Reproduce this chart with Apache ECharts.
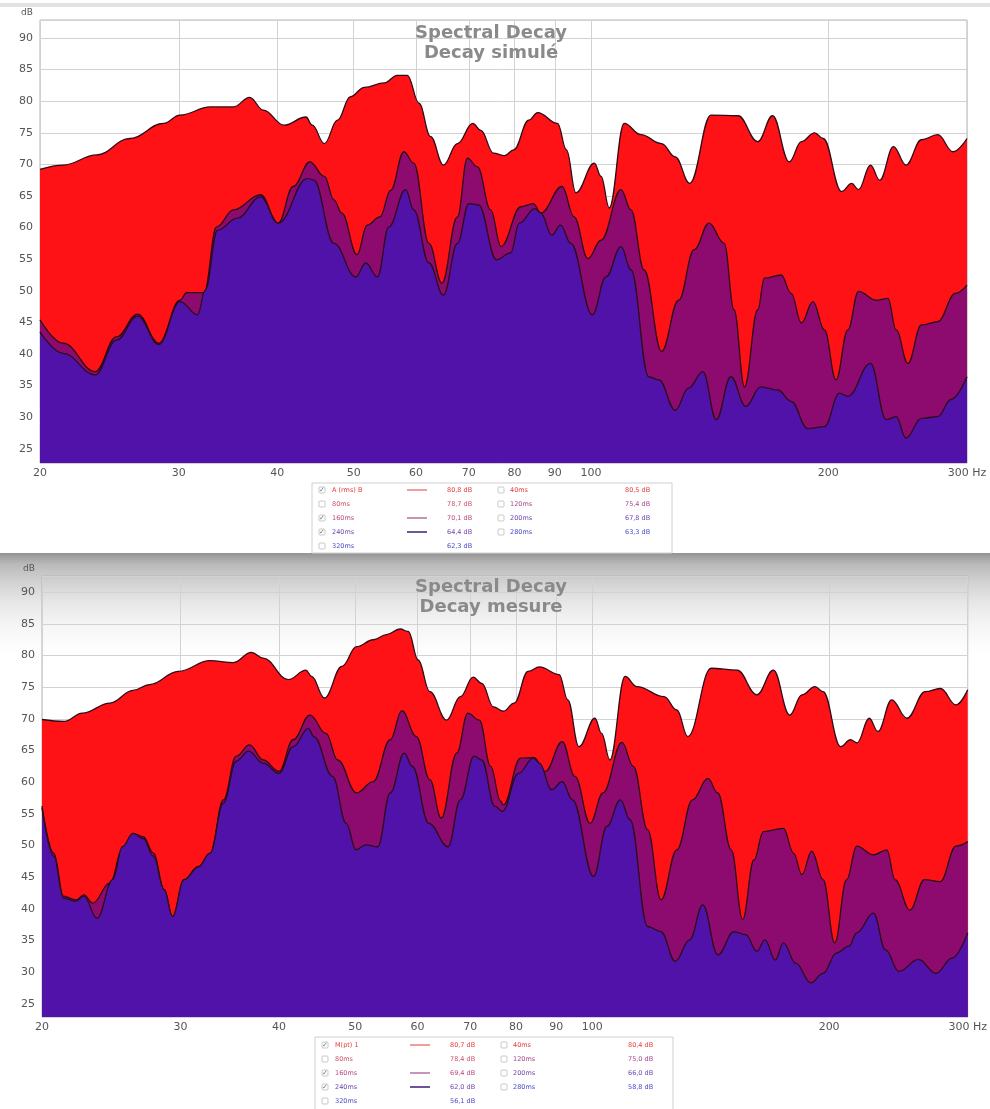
<!DOCTYPE html>
<html>
<head>
<meta charset="utf-8">
<script src="https://cdn.jsdelivr.net/npm/echarts@6/dist/echarts.min.js"></script>
<style>
  html, body { margin: 0; padding: 0; background: #fff; }
  #chart { width: 990px; height: 1109px; }
</style>
</head>
<body>
<div id="chart"></div>
<script>
// ticks of the frequency axis (Hz)
const freqTicks = [20, 30, 40, 50, 60, 70, 80, 90, 100, 200, 300];

// simulated decay: [Hz, dB]
const simRms = [[20,69.2],[21.4,69.9],[23.6,71.5],[26,74.1],[28.7,76.5],[30.1,77.8],[32.9,79.1],[35.2,79.1],[36.9,80.6],[38.4,78.6],[40.8,76.2],[43.5,77.5],[44.3,76.2],[45.9,73.3],[47.7,77.0],[49.5,80.7],[51.6,82.2],[54.7,82.9],[56.8,84.1],[58.5,84.1],[60.5,79.7],[62.6,74.4],[65,69.9],[67.7,73.3],[70.8,76.5],[72.5,75.4],[75.2,71.8],[77.7,71.4],[79.8,72.3],[83.4,77.0],[85.6,78.2],[90.7,76.5],[93.1,72.3],[95.7,65.5],[101,70.2],[103,68.1],[105.5,63.1],[110.2,76.5],[115.7,74.7],[122.9,73.3],[127.9,71.2],[133.5,67.0],[142,77.8],[153.7,77.7],[162.8,73.6],[170,77.7],[178.5,70.4],[184.9,73.6],[192.2,75.0],[197.1,74.1],[208,65.7],[214.2,67.0],[218.5,66.0],[226.3,69.9],[232.5,67.5],[242,72.8],[251,69.9],[262.6,73.9],[275.4,74.7],[288,72.0],[300,74.1]];
const sim160 = [[20,45.4],[21.4,41.7],[23.5,37.2],[25,42.7],[26.6,46.3],[28.3,41.7],[30.1,48.5],[30.7,49.7],[32.3,49.7],[33.5,60.1],[35.2,62.8],[38.1,65.2],[40.1,60.7],[41.9,66.5],[44,70.4],[45.9,68.1],[47.2,64.4],[48.3,62.3],[50.5,55.7],[52,60.4],[54,61.7],[55.7,65.9],[57.9,72.0],[59.6,70.2],[62.3,57.5],[64.7,51.2],[67.7,61.7],[69.7,71.0],[71.8,69.6],[74.6,62.8],[76.9,57.0],[81.5,63.3],[84.5,63.8],[86.4,62.3],[91.9,66.5],[95.2,61.7],[99.1,55.1],[103,58.0],[109.2,66.0],[112.4,62.8],[116.8,53.3],[122.9,40.4],[129.2,48.5],[135.2,56.5],[141.2,60.7],[147.6,57.5],[151.9,47.0],[156.6,34.8],[162.8,47.0],[166,52.0],[174.3,52.5],[179.5,49.6],[184.9,44.9],[191.3,48.3],[197.8,43.8],[204.6,35.9],[211.8,43.8],[218.5,49.9],[230,48.5],[238.1,48.8],[243.9,43.8],[252.4,38.5],[262.6,44.6],[275.4,45.1],[290,49.6],[300,50.9]];
const sim240 = [[20,43.5],[21.4,40.1],[23.5,36.7],[25,42.2],[26.6,46.0],[28.3,41.5],[30.1,48.3],[31.7,46.2],[32.4,50.1],[33.6,59.6],[35.6,61.5],[38.1,64.9],[40.1,60.7],[43.7,67.8],[44.5,67.5],[47.2,57.5],[50.3,52.2],[51.8,54.4],[53.6,52.2],[55.4,60.1],[58.2,66.0],[59.6,62.8],[62.3,54.4],[65,49.3],[67.7,57.5],[70,63.8],[72,63.6],[75.9,54.9],[79.1,56.0],[81.1,60.7],[84.9,63.0],[86.4,62.3],[89.2,58.8],[91.5,60.4],[94.3,57.5],[100.4,46.2],[104.5,52.2],[109.2,57.0],[112.4,53.3],[118.4,36.4],[122,35.9],[127.9,31.1],[133,34.6],[138.7,37.2],[144.2,29.6],[150.5,36.4],[157.2,31.7],[164.2,34.8],[172.6,34.3],[179.5,32.5],[188.3,28.2],[197.8,28.5],[206.7,33.8],[211.8,33.3],[226.3,38.5],[236.9,29.6],[243.9,30.1],[251,26.7],[262.6,29.8],[275.4,30.1],[286.4,32.8],[300,36.4]];

// measured decay: [Hz, dB]
const mesRms = [[20,69.9],[21.35,69.6],[22.5,70.9],[24.4,72.5],[26.1,74.5],[27.4,75.4],[29.8,77.5],[32.7,79.2],[35,78.9],[36.9,80.5],[38.2,79.6],[41.1,76.2],[43.3,77.7],[44,76.7],[45.7,73.3],[48.1,78.3],[50.2,81.4],[52.7,82.5],[54.8,83.3],[57,84.2],[58.4,83.8],[60.1,79.3],[62.2,74.3],[65.3,69.8],[68,73.5],[70.6,76.6],[72.4,75.6],[74.9,71.9],[77.1,71.2],[79.6,72.5],[82.9,77.5],[85.7,78.2],[90.8,77.0],[93.1,73.0],[96.2,65.6],[100.8,70.1],[102.8,67.7],[105.3,63.5],[110.1,76.7],[114,75.1],[123.4,73.5],[128.1,71.4],[132.3,67.2],[141.6,78.0],[152.8,77.7],[161.9,73.8],[169.9,77.7],[178.2,70.6],[184.7,73.8],[191.9,75.1],[196.5,74.3],[206.8,65.6],[212.9,66.7],[217,66.2],[224.9,70.1],[230.7,68.0],[240.2,73.0],[251.1,70.1],[264.9,74.3],[277,74.8],[289.9,72.2],[300,74.6]];
const mes160 = [[20,56.2],[20.7,48.8],[21.3,42.0],[22.1,41.4],[22.6,42.2],[23.2,40.9],[24.4,44.1],[25.3,49.3],[26.1,51.9],[26.9,51.4],[27.7,48.8],[28.6,43.0],[29.3,38.8],[30.3,44.6],[31.6,46.7],[32.7,48.8],[34,57.2],[35.3,64.1],[36.7,65.9],[38.2,63.5],[40,61.7],[41.7,66.7],[43.8,70.6],[45.9,67.7],[47.5,63.5],[50.2,58.3],[52.7,60.1],[55.4,66.7],[57.3,71.3],[59.8,67.2],[62.2,60.4],[64.3,54.3],[67.3,64.6],[69.5,70.9],[71.9,69.8],[74.3,62.5],[76.5,57.0],[77.1,56.4],[81.1,63.8],[84.3,63.9],[87.2,61.7],[91.6,66.4],[95.1,60.9],[99.4,53.5],[103.2,58.3],[109.1,66.3],[112.8,62.5],[117.6,52.5],[122.3,41.4],[128.1,49.3],[134.1,57.2],[140.3,60.6],[144.4,58.3],[150.2,49.3],[155.3,38.3],[160.5,47.7],[165,52.2],[175,52.7],[180.2,48.8],[184.7,45.4],[190.1,49.1],[196.5,44.6],[203.3,34.6],[210.5,44.6],[216.8,49.9],[227.7,48.5],[236.8,49.3],[242.5,44.6],[253.3,39.8],[264.3,44.6],[276.8,44.3],[289.9,49.9],[300,50.6]];
const mes240 = [[20,55.9],[20.7,48.3],[21.3,41.7],[22.1,41.2],[22.6,42.0],[23.5,38.5],[24.6,44.6],[25.3,49.8],[26.1,51.9],[26.9,51.1],[27.7,48.3],[28.6,43.0],[29.3,38.8],[30.3,44.6],[31.6,46.6],[32.7,48.8],[34,56.7],[35.3,63.3],[36.6,64.9],[38.2,63.0],[40,61.4],[41.7,65.6],[43.6,68.5],[44.3,67.2],[46.8,60.9],[48.7,53.5],[50.1,49.3],[51.6,50.1],[53.4,49.8],[55.4,58.3],[57.7,64.6],[59.1,62.5],[62,53.5],[65.6,49.8],[68,57.2],[70.8,64.1],[72.4,63.5],[75.2,56.2],[76.9,55.4],[80.6,61.4],[84.2,63.8],[85.7,63.0],[88.8,58.8],[91.6,60.1],[94.4,57.2],[100.4,45.1],[104.4,53.0],[108.6,57.2],[111.7,54.1],[117.6,37.2],[122.3,36.4],[127.5,31.7],[133,35.1],[138.2,40.6],[144.4,32.7],[151.4,36.4],[156.7,35.9],[161.9,33.3],[165.8,35.1],[170.8,31.9],[175,34.6],[181.3,31.4],[189.6,28.3],[196.5,29.8],[204.3,33.0],[212,34.1],[216.8,36.2],[227.7,39.3],[235.9,33.5],[245.3,30.1],[259.7,32.0],[273.4,29.8],[286.6,32.2],[300,36.2]];

const titles = [['Spectral Decay', 'Decay simulé'], ['Spectral Decay', 'Decay mesure']];

// legend table texts
const legendNamesL = [['A (rms) B', '80ms', '160ms', '240ms', '320ms'], ['M(pt) 1', '80ms', '160ms', '240ms', '320ms']];
const legendValsL = [['80,8 dB', '78,7 dB', '70,1 dB', '64,4 dB', '62,3 dB'], ['80,7 dB', '78,4 dB', '69,4 dB', '62,0 dB', '56,1 dB']];
const legendNamesR = ['40ms', '120ms', '200ms', '280ms'];
const legendValsR = [['80,5 dB', '75,4 dB', '67,8 dB', '63,3 dB'], ['80,4 dB', '75,0 dB', '66,0 dB', '58,8 dB']];
const legendChecked = [true, false, true, true, false];

const RED = '#ff1216';
const PURPLE = '#8d0b6f';
const BLUE = '#5112aa';
const EDGE = '#2e0b18';
const rowColL = ['#e43c3c', '#d0506a', '#b8487e', '#7044b0', '#4a48c8'];
const rowColR = ['#e43c3c', '#a8468e', '#7044b0', '#4a48c8'];
const sampleCol = ['#e43c3c', null, '#8d2a6a', '#4a2a88', null];

const panels = [
  { grid: { left: 40, top: 20, width: 927, height: 443 }, yMin: 22.75, yMax: 92.85, titleY: 23,
    box: { x: 312, y: 483, w: 360, h: 70 }, rowY: 490, data: [simRms, sim160, sim240] },
  { grid: { left: 42, top: 576, width: 927, height: 441 }, yMin: 22.9, yMax: 92.57, titleY: 577,
    box: { x: 315, y: 1037, w: 358, h: 76 }, rowY: 1045, data: [mesRms, mes160, mes240] }
];

const chart = echarts.init(document.getElementById('chart'));

// page strips and the shadow over the second panel
const graphics = [
  { type: 'rect', z: -10, shape: { x: 0, y: 3, width: 990, height: 4 }, style: { fill: '#e2e2e2' } },
  { type: 'rect', z: -10, shape: { x: 0, y: 553, width: 990, height: 115 },
    style: { fill: new echarts.graphic.LinearGradient(0, 0, 0, 1, [
      { offset: 0, color: 'rgba(110,110,110,0.75)' },
      { offset: 0.1, color: 'rgba(140,140,140,0.6)' },
      { offset: 0.45, color: 'rgba(190,190,190,0.35)' },
      { offset: 1, color: 'rgba(255,255,255,0)' }
    ]) } }
];

panels.forEach((p, k) => {
  graphics.push({
    type: 'text', z: 20, x: 491, y: p.titleY,
    style: { text: titles[k].join('\n'), align: 'center', verticalAlign: 'top',
      font: 'bold 18px "DejaVu Sans"', fill: '#8a8a8a', lineHeight: 20 }
  });
  const b = p.box;
  graphics.push({ type: 'rect', z: 20, shape: { x: b.x, y: b.y, width: b.w, height: b.h },
    style: { fill: '#fff', stroke: '#d0d0d0', lineWidth: 1 } });
  const font = '6.5px "DejaVu Sans"';
  legendNamesL[k].forEach((name, i) => {
    const y = p.rowY + i * 14;
    graphics.push({ type: 'rect', z: 21, shape: { x: b.x + 7, y: y - 3, width: 6, height: 6, r: 1 },
      style: { fill: '#fff', stroke: '#bbb', lineWidth: 0.8 } });
    if (legendChecked[i]) {
      graphics.push({ type: 'text', z: 22, x: b.x + 10, y: y,
        style: { text: '✓', font: '7px "DejaVu Sans"', fill: '#777', align: 'center', verticalAlign: 'middle' } });
    }
    graphics.push({ type: 'text', z: 21, x: b.x + 20, y: y,
      style: { text: name, font: font, fill: rowColL[i], verticalAlign: 'middle' } });
    if (legendChecked[i]) {
      graphics.push({ type: 'line', z: 21, shape: { x1: b.x + 95, y1: y, x2: b.x + 115, y2: y },
        style: { stroke: sampleCol[i], lineWidth: i === 3 ? 1.6 : 1 } });
    }
    graphics.push({ type: 'text', z: 21, x: b.x + 135, y: y,
      style: { text: legendValsL[k][i], font: font, fill: rowColL[i], verticalAlign: 'middle' } });
  });
  legendNamesR.forEach((name, i) => {
    const y = p.rowY + i * 14;
    graphics.push({ type: 'rect', z: 21, shape: { x: b.x + 186, y: y - 3, width: 6, height: 6, r: 1 },
      style: { fill: '#fff', stroke: '#bbb', lineWidth: 0.8 } });
    graphics.push({ type: 'text', z: 21, x: b.x + 198, y: y,
      style: { text: name, font: font, fill: rowColR[i], verticalAlign: 'middle' } });
    graphics.push({ type: 'text', z: 21, x: b.x + 313, y: y,
      style: { text: legendValsR[k][i], font: font, fill: rowColR[i], verticalAlign: 'middle' } });
  });
});

const makeSeries = (data, color, k, z) => ({
  type: 'line', xAxisIndex: k, yAxisIndex: k, data: data, z: z,
  showSymbol: false, smooth: 0.4, smoothMonotone: 'x', silent: true,
  lineStyle: { color: EDGE, width: 1.3 },
  areaStyle: { color: color, opacity: 1, origin: 'start' }
});

const option = {
  animation: false,
  backgroundColor: '#fff',
  grid: panels.map(p => Object.assign({ show: true, borderColor: '#b4b4b4', borderWidth: 1 }, p.grid)),
  xAxis: panels.map((p, k) => ({
    type: 'log', logBase: 10, gridIndex: k, min: 20, max: 300,
    axisLine: { show: false },
    axisTick: { show: false, customValues: freqTicks },
    axisLabel: { customValues: freqTicks, color: '#555', fontSize: 11, margin: 5,
      fontFamily: '"DejaVu Sans"',
      formatter: v => (Math.round(v) === 300 ? '300 Hz' : String(Math.round(v))) },
    splitLine: { show: true, lineStyle: { color: '#d2d2d2', width: 1 } }
  })),
  yAxis: panels.map((p, k) => ({
    type: 'value', gridIndex: k, min: p.yMin, max: p.yMax, splitNumber: 14,
    name: 'dB', nameLocation: 'end', nameGap: 3,
    nameTextStyle: { color: '#555', fontSize: 9, align: 'right', padding: [0, 7, 0, 0], fontFamily: '"DejaVu Sans"' },
    axisLine: { show: false }, axisTick: { show: false },
    axisLabel: { color: '#555', fontSize: 11, margin: 7, fontFamily: '"DejaVu Sans"',
      formatter: v => (Math.abs(v % 5) < 1e-6 ? String(v) : '') },
    splitLine: { show: true, lineStyle: { color: '#d2d2d2', width: 1 } }
  })),
  series: [].concat(...panels.map((p, k) => [
    makeSeries(p.data[0], RED, k, 2),
    makeSeries(p.data[1], PURPLE, k, 3),
    makeSeries(p.data[2], BLUE, k, 4)
  ])),
  graphic: graphics
};

chart.setOption(option);
</script>
</body>
</html>
